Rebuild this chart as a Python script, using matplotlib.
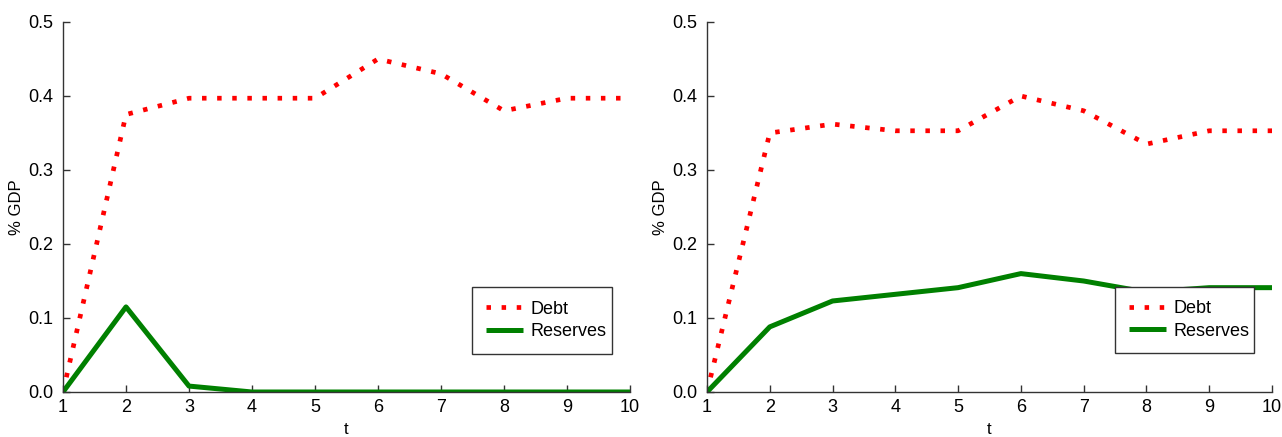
import matplotlib
matplotlib.use("Agg")
import matplotlib.pyplot as plt

plt.rcParams['font.family'] = ['Liberation Sans', 'DejaVu Sans']

t = [1, 2, 3, 4, 5, 6, 7, 8, 9, 10]
debt_left = [0.0, 0.375, 0.397, 0.397, 0.397, 0.45, 0.43, 0.38, 0.397, 0.397]
reserves_left = [0.0, 0.115, 0.008, 0.0, 0.0, 0.0, 0.0, 0.0, 0.0, 0.0]
debt_right = [0.0, 0.35, 0.362, 0.353, 0.353, 0.40, 0.38, 0.335, 0.353, 0.353]
reserves_right = [0.0, 0.088, 0.123, 0.132, 0.141, 0.16, 0.15, 0.135, 0.141, 0.141]
yticks = [0.0, 0.1, 0.2, 0.3, 0.4, 0.5]

fig = plt.figure(figsize=(12.82, 4.37), dpi=100)
ax1 = fig.add_axes([63/1282, 1-392/437, (630-63)/1282, (392-22)/437])
ax2 = fig.add_axes([707/1282, 1-392/437, (1272-707)/1282, (392-22)/437])

for ax, d, r in [(ax1, debt_left, reserves_left), (ax2, debt_right, reserves_right)]:
    ax.plot(t, d, color='red', lw=3.4, linestyle=(0, (0.95, 2.25)), label='Debt',
            dash_capstyle='butt')
    ax.plot(t, r, color='green', lw=3.6, label='Reserves', solid_capstyle='butt')
    ax.set_xlim(1, 10)
    ax.set_ylim(0, 0.5)
    ax.set_xticks(t)
    ax.set_yticks(yticks)
    ax.set_yticklabels([f"{v:.1f}" for v in yticks])
    ax.spines['top'].set_visible(False)
    ax.spines['right'].set_visible(False)
    for s in ['left', 'bottom']:
        ax.spines[s].set_color('#333333')
        ax.spines[s].set_linewidth(1.0)
    ax.tick_params(direction='in', length=5, width=1, color='#333333', labelsize=13)
    ax.tick_params(axis='y', pad=7)
    ax.tick_params(axis='x', pad=5)
    ax.set_xlabel('t', fontsize=12, labelpad=4)
    ax.set_ylabel('% GDP', fontsize=12, labelpad=3)

def add_legend(ax, x0, y0, x1, y1):
    fw, fh = 1282, 437
    bb = ax.get_position()
    ax_l = bb.x0 * fw
    ax_b = (1 - bb.y0) * fh
    ax_w = bb.width * fw
    ax_h = bb.height * fh
    bx0 = (x0 - ax_l) / ax_w
    by0 = (ax_b - y1) / ax_h
    bw = (x1 - x0) / ax_w
    bh = (y1 - y0) / ax_h
    leg = ax.legend(loc='center', bbox_to_anchor=(bx0, by0, bw, bh), mode='expand',
                    borderaxespad=0, fontsize=13, frameon=True, fancybox=False,
                    borderpad=0.75, handlelength=2.1, handletextpad=0.4, labelspacing=0.3)
    leg.get_frame().set_edgecolor('#333333')
    leg.get_frame().set_linewidth(1.0)
    leg.get_frame().set_alpha(1)

add_legend(ax1, 472, 287, 612, 354)
add_legend(ax2, 1115, 287, 1254, 353)

fig.savefig('out.png', dpi=100)
